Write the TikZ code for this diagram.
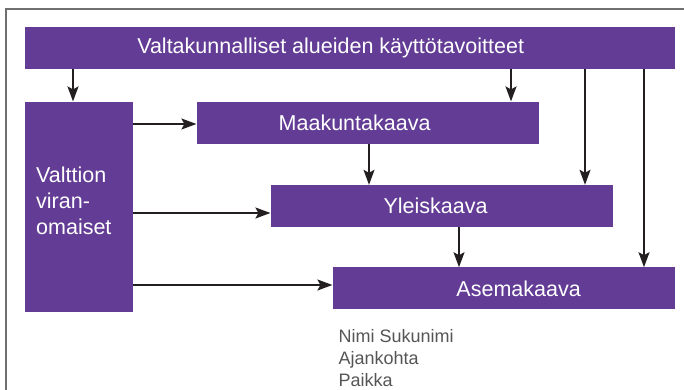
\documentclass[tikz,border=0pt]{standalone}
\usepackage{fontspec}
\setmainfont{Liberation Sans}
\usetikzlibrary{positioning,arrows.meta}
\definecolor{planpurple}{RGB}{99,61,149}
\definecolor{framegray}{RGB}{112,112,112}
\definecolor{arrowdark}{RGB}{35,31,32}
\definecolor{signgray}{RGB}{85,85,85}

\begin{document}
\begin{tikzpicture}[x=1pt, y=-1pt,
  plan/.style={rectangle, fill=planpurple, text=white, inner sep=0pt, minimum height=42pt, font=\fontsize{21.5}{26}\selectfont},
  flow/.style={-{Stealth[length=15pt,width=11pt,inset=3pt]}, line width=1.6pt, draw=arrowdark}]
  \useasboundingbox (0,0) rectangle (684,390);
  \draw[framegray, line width=2.5pt] (684,9) -| (6,390);

  \node[plan, anchor=north west, minimum width=650pt] (vat) at (25,27) {Valtakunnalliset alueiden käyttötavoitteet\hspace*{39pt}};
  \node[plan, below=32pt of vat.south west, anchor=north west, minimum width=108pt, minimum height=210pt, text width=86pt, text depth=64pt, align=left] (vir) {Valttion\\viran-\\omaiset};
  \node[plan, right=63pt of vir.north east, anchor=north west, minimum width=342pt] (maak) {Maakuntakaava\hspace*{26pt}};
  \node[plan, below=41pt of maak.south west, anchor=north west, xshift=74pt, minimum width=342pt] (yleis) {Yleiskaava\hspace*{12pt}};
  \node[plan, below=40pt of yleis.south west, anchor=north west, xshift=62pt, minimum width=342pt] (asema) {\hspace*{30pt}Asemakaava};
  \node[below=20pt of asema.south west, anchor=north west, xshift=6pt, inner sep=0pt, align=left, text=signgray, font=\fontsize{18}{22}\selectfont] (sign) {Nimi Sukunimi\\Ajankohta\\Paikka};

  \draw[flow] (vat.south -| 73,0) -- (vir.north -| 73,0);
  \draw[flow] (vat.south -| 511,0) -- (maak.north -| 511,0);
  \draw[flow] (vat.south -| 585,0) -- (yleis.north -| 585,0);
  \draw[flow] (vat.south -| 644,0) -- (asema.north -| 644,0);
  \draw[flow] (maak.south -| 369,0) -- (yleis.north -| 369,0);
  \draw[flow] (yleis.south -| 459,0) -- (asema.north -| 459,0);
  \draw[flow] (vir.east |- 0,124) -- (maak.west |- 0,124);
  \draw[flow] (vir.east |- 0,213) -- (yleis.west |- 0,213);
  \draw[flow] (vir.east |- 0,285) -- (asema.west |- 0,285);
\end{tikzpicture}
\end{document}
